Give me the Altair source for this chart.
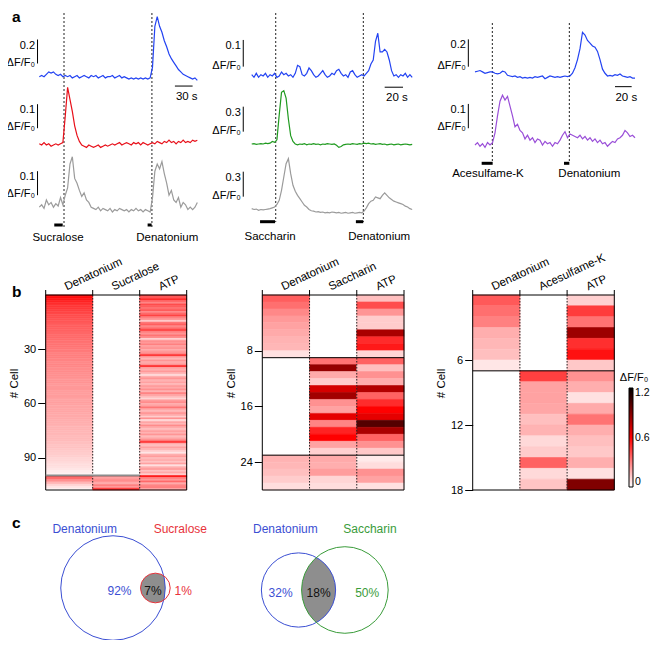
import math
import altair as alt
import pandas as pd

W, H = 642, 632            # drawing area; the page adds an 8 px margin
FONT = "Liberation Sans"


def px(X):                 # reference-image x -> chart x
    return X - 8


def py(Y):                 # reference-image y -> chart y
    return Y - 8


# ============ a: Ca2+ traces (ΔF/F0), regular sampling ============
c1_dt = 4
c1_blue = [0.00, 0.01, 0.00, 0.02, 0.04, 0.03, 0.04, 0.02, 0.01, 0.02,
           0.00, 0.01, 0.00, 0.01, -0.01, 0.00, 0.01, -0.01, 0.00, 0.01,
           0.00, -0.01, 0.01, 0.00, 0.01, -0.01, 0.00, 0.01, -0.01, 0.00,
           0.00, 0.01, -0.01, 0.00, 0.01, -0.01, 0.00, -0.01, -0.02, -0.01,
           -0.02, -0.01, -0.02, -0.01, -0.02, -0.01, -0.02, -0.01, 0.08, 0.42,
           0.50, 0.42, 0.37, 0.30, 0.25, 0.19, 0.15, 0.12, 0.09, 0.06,
           0.04, 0.02, 0.01, 0.00, -0.01, -0.02, -0.01, -0.03]
c1_red = [0.005, 0.000, 0.010, 0.000, 0.005, -0.005, 0.000, 0.005, 0.000, 0.005,
          0.010, 0.120, 0.240, 0.190, 0.140, 0.080, 0.040, 0.015, 0.000, -0.005,
          -0.010, 0.000, -0.005, -0.010, -0.005, 0.000, -0.010, -0.005, 0.000, -0.005,
          0.000, 0.005, 0.000, 0.005, 0.010, 0.000, 0.005, 0.010, 0.005, 0.000,
          0.010, 0.005, 0.010, 0.000, 0.010, 0.005, 0.000, 0.005, 0.010, 0.005,
          0.015, 0.010, 0.005, 0.015, 0.010, 0.020, 0.010, 0.015, 0.005, 0.015,
          0.010, 0.020, 0.010, 0.015, 0.010, 0.020, 0.015, 0.020]
c1_gray = [0.020, 0.030, 0.015, 0.050, 0.030, 0.040, 0.020, 0.035, 0.025, 0.060,
           0.030, 0.070, 0.100, 0.200, 0.230, 0.140, 0.120, 0.090, 0.065, 0.080,
           0.050, 0.040, 0.020, 0.015, 0.010, 0.020, 0.005, 0.015, 0.010, 0.005,
           0.015, 0.000, 0.010, 0.005, 0.015, 0.010, 0.005, 0.010, 0.000, 0.010,
           0.005, 0.015, 0.005, 0.010, 0.000, 0.010, 0.005, 0.000, 0.060, 0.170,
           0.200, 0.180, 0.210, 0.160, 0.120, 0.070, 0.090, 0.050, 0.040, 0.060,
           0.020, 0.040, 0.030, 0.010, 0.020, 0.010, 0.020, 0.040]

c2_dt = 2.5
c2_blue = [0.005, -0.005, 0.010, -0.005, 0.005, 0.000, 0.010, -0.005, 0.005, 0.000,
           0.010, -0.005, 0.000, 0.015, 0.005, 0.010, 0.000, 0.005, -0.005, 0.010,
           0.040, 0.035, 0.005, 0.000, 0.010, 0.030, 0.020, 0.005, -0.005, 0.000,
           0.010, 0.020, 0.005, -0.005, 0.000, 0.010, 0.005, 0.020, 0.025, 0.010,
           0.000, 0.005, -0.005, 0.015, 0.020, 0.005, -0.005, 0.000, 0.005, 0.000,
           0.010, 0.020, 0.045, 0.060, 0.130, 0.160, 0.090, 0.090, 0.100, 0.090,
           0.060, 0.020, 0.000, 0.005, -0.005, 0.005, 0.000, 0.010, -0.005, 0.005,
           -0.005]
c2_green = [0.000, 0.005, -0.005, 0.000, 0.005, 0.000, 0.010, 0.005, 0.010, 0.030,
            0.020, 0.050, 0.350, 0.620, 0.640, 0.550, 0.300, 0.100, 0.030, 0.000,
            -0.010, 0.000, -0.005, 0.005, -0.010, 0.000, -0.005, 0.005, -0.005, 0.000,
            -0.010, 0.000, -0.005, 0.005, 0.000, -0.005, 0.000, -0.015, -0.040, -0.030,
            -0.010, -0.005, 0.000, -0.005, 0.005, 0.000, -0.005, 0.005, 0.000, 0.010,
            0.005, 0.010, 0.000, 0.005, -0.005, 0.000, 0.005, -0.005, 0.000, -0.010,
            -0.005, 0.000, -0.010, -0.005, 0.000, -0.010, -0.005, 0.000, -0.005, -0.010,
            -0.005]
c2_gray = [0.040, 0.030, 0.035, 0.020, 0.030, 0.025, 0.030, 0.035, 0.040, 0.050,
           0.060, 0.090, 0.140, 0.260, 0.420, 0.580, 0.640, 0.460, 0.320, 0.250,
           0.200, 0.160, 0.120, 0.080, 0.060, 0.030, 0.015, 0.010, 0.000, 0.005,
           -0.005, 0.000, -0.010, -0.005, -0.010, 0.000, -0.005, -0.010, -0.005, -0.015,
           -0.010, -0.005, -0.015, -0.010, -0.005, -0.015, -0.010, -0.005, -0.010, 0.010,
           0.050, 0.100, 0.130, 0.140, 0.180, 0.170, 0.160, 0.200, 0.230, 0.200,
           0.170, 0.150, 0.130, 0.120, 0.110, 0.100, 0.090, 0.070, 0.060, 0.040,
           0.030]

c3_dt = 3
c3_blue = [0.030, 0.035, 0.040, 0.030, 0.020, 0.025, 0.030, 0.030, 0.020, 0.015,
           0.020, 0.035, 0.030, 0.005, 0.000, -0.005, 0.000, -0.010, -0.005, -0.015,
           -0.010, -0.015, -0.010, -0.015, -0.005, -0.010, -0.005, 0.000, -0.020, -0.010,
           0.000, -0.005, -0.010, -0.005, -0.010, -0.005, 0.000, -0.005, 0.000, 0.020,
           0.060, 0.120, 0.200, 0.320, 0.300, 0.260, 0.240, 0.220, 0.210, 0.180,
           0.120, 0.050, 0.020, 0.000, 0.005, 0.000, 0.010, 0.005, 0.015, 0.000,
           -0.005, -0.010, -0.005, -0.015, -0.015]
c3_purple = [0.000, 0.010, -0.005, 0.005, -0.010, 0.010, 0.000, 0.010, 0.050, 0.120,
             0.180, 0.205, 0.185, 0.200, 0.160, 0.120, 0.075, 0.085, 0.060, 0.050,
             0.025, 0.040, 0.020, 0.030, 0.010, 0.025, 0.020, 0.000, 0.015, 0.005,
             0.010, -0.005, 0.010, 0.005, 0.020, 0.040, 0.055, 0.030, 0.045, 0.040,
             0.035, 0.030, 0.040, 0.025, 0.035, 0.020, 0.030, 0.015, 0.025, 0.010,
             0.020, 0.005, 0.010, -0.005, 0.005, 0.015, 0.010, 0.025, 0.030, 0.040,
             0.060, 0.050, 0.035, 0.040, 0.030]

# stimulus: name, start (s), end (s), label position (s)
c1_stim = [("Sucralose", 25.4, 39.7, 31.7), ("Denatonium", 183.7, 190.5, 217)]
c2_stim = [("Saccharin", 9.1, 25.5, 20), ("Denatonium", 113.6, 121.6, 139)]
c3_stim = [("Acesulfame-K", 8.0, 21.2, 15.6), ("Denatonium", 106.8, 113.2, 137.2)]
c1_onsets = [41.9, 191.0]
c2_onsets = [26.2, 121.7]
c3_onsets = [20.8, 113.2]

# ============ b: heat maps (peak ΔF/F0 per cell) ============
h1_den = [0.60, 0.57, 0.54, 0.52, 0.50, 0.48, 0.47, 0.46, 0.45, 0.44,
          0.43, 0.42, 0.41, 0.40, 0.40, 0.39, 0.38, 0.38, 0.37, 0.37,
          0.36, 0.36, 0.35, 0.35, 0.34, 0.34, 0.33, 0.33, 0.32, 0.32,
          0.31, 0.31, 0.30, 0.30, 0.30, 0.29, 0.29, 0.28, 0.28, 0.28,
          0.27, 0.27, 0.27, 0.26, 0.26, 0.26, 0.25, 0.25, 0.25, 0.24,
          0.24, 0.24, 0.24, 0.23, 0.23, 0.23, 0.23, 0.22, 0.22, 0.22,
          0.22, 0.21, 0.21, 0.21, 0.21, 0.20, 0.20, 0.20, 0.20, 0.19,
          0.19, 0.19, 0.18, 0.18, 0.18, 0.17, 0.17, 0.17, 0.16, 0.16,
          0.16, 0.15, 0.15, 0.14, 0.14, 0.13, 0.13, 0.12, 0.12, 0.11,
          0.10, 0.10, 0.09, 0.08, 0.08, 0.07, 0.06, 0.05, 0.04, 0.03,
          0.48, 0.36, 0.28, 0.22, 0.16, 0.10, 0.06, None]
h1_suc = [None] * 100 + [0.32, 0.22, 0.28, 0.25, 0.20, 0.30, 0.24, 0.50]
h1_atp = [0.45, 0.40, 0.50, 0.36, 0.30, 0.42, 0.38, 0.33, 0.40, 0.28,
          0.35, 0.44, 0.30, 0.26, 0.12, 0.32, 0.38, 0.28, 0.34, 0.46,
          0.30, 0.25, 0.33, 0.28, 0.10, 0.27, 0.24, 0.30, 0.22, 0.26,
          0.20, 0.24, 0.28, 0.48, 0.22, 0.18, 0.25, 0.20, 0.23, 0.52,
          0.22, 0.19, 0.24, 0.17, 0.08, 0.21, 0.25, 0.18, 0.22, 0.16,
          0.24, 0.20, 0.26, 0.18, 0.30, 0.22, 0.16, 0.10, 0.23, 0.27,
          0.19, 0.24, 0.32, 0.20, 0.17, 0.25, 0.21, 0.12, 0.26, 0.08,
          0.22, 0.18, 0.27, 0.20, 0.15, 0.23, 0.19, 0.25, 0.16, 0.21,
          0.28, 0.50, 0.20, 0.15, 0.22, 0.18, 0.12, 0.06, 0.19, 0.23,
          0.16, 0.20, 0.14, 0.22, 0.07, 0.18, 0.24, 0.15, 0.20, 0.12,
          0.55, 0.30, 0.25, 0.35, 0.20, 0.28, 0.32, 0.22]

h2_den = [0.38, 0.34, 0.28, 0.24, 0.22, 0.20, 0.18, 0.17, 0.07] + [None] * 14 + \
         [0.18, 0.17, 0.15, 0.12, 0.08]
h2_sac = [None] * 9 + [0.33, 0.85, 0.20, 0.12, 0.70, 0.82, 0.26, 0.22, 0.66, 0.29,
                       0.52, 0.60, 0.22, 0.11, 0.20, 0.19, 0.23, 0.10, 0.08]
h2_atp = [0.15, 0.42, 0.25, 0.12, 0.12, 0.80, 0.50, 0.54, 0.10, 0.37,
          0.15, 0.26, 0.19, 0.78, 0.37, 0.50, 0.60, 0.66, 1.00, 0.80,
          0.37, 0.26, 0.13, 0.05, 0.08, 0.26, 0.22, 0.07]

h3_den = [0.39, 0.34, 0.30, 0.19, 0.17, 0.15, 0.06] + [None] * 11
h3_ace = [None] * 7 + [0.45, 0.22, 0.22, 0.21, 0.15, 0.18, 0.09, 0.12, 0.37, 0.09, 0.14]
h3_atp = [0.11, 0.46, 0.33, 0.83, 0.49, 0.56, 0.13, 0.26, 0.19, 0.07,
          0.20, 0.33, 0.19, 0.15, 0.13, 0.19, 0.07, 0.90]

# ============ c: Venn percentages ============
venn = [dict(a="Denatonium", b="Sucralose", a_only=92, both=7, b_only=1),
        dict(a="Denatonium", b="Saccharin", a_only=32, both=18, b_only=50)]

for arr, n in [(h1_den, 108), (h1_suc, 108), (h1_atp, 108), (h2_den, 28), (h2_sac, 28),
               (h2_atp, 28), (h3_den, 18), (h3_ace, 18), (h3_atp, 18)]:
    assert len(arr) == n, (len(arr), n)

# ---------------- styling / layout ----------------
BLUE, RED, GREEN, GRAY, PURPLE = "#2343f2", "#e8101a", "#1f9a1f", "#9b9b9b", "#9a4fd8"

COLS = [
    dict(dt=c1_dt, T=270, X=(39.3, 198.5), onsets=c1_onsets, stim=c1_stim, stimY=225, labY=238,
         dotY=(13, 227), barT=-3.0, tbar=(230, 260, -0.078, "30 s"),
         traces=[(c1_blue, BLUE, 0.2, 76.7, 120, 0.11), (c1_red, RED, 0.1, 145, 240, 0.07),
                 (c1_gray, GRAY, 0.1, 212, 240, 0.07)]),
    dict(dt=c2_dt, T=175, X=(251.7, 412.2), onsets=c2_onsets, stim=c2_stim, stimY=221.7, labY=237,
         dotY=(13, 222), barT=-9.2, tbar=(145, 165, -0.042, "20 s"),
         traces=[(c2_blue, BLUE, 0.1, 76, 267, 0.035), (c2_green, GREEN, 0.3, 144, 83.3, 0.148),
                 (c2_gray, GRAY, 0.3, 212, 83.3, 0.184)]),
    dict(dt=c3_dt, T=192, X=(475, 635), onsets=c3_onsets, stim=c3_stim, stimY=163.3, labY=174,
         dotY=(23, 163), barT=-8.0, tbar=(168, 188, -0.078, "20 s"),
         traces=[(c3_blue, BLUE, 0.2, 76, 136.7, 0.068), (c3_purple, PURPLE, 0.1, 145, 243, 0.069)]),
]

HM_Y = (295, 490)
HM = [
    dict(names=["Denatonium", "Sucralose", "ATP"], cols=[h1_den, h1_suc, h1_atp], X=(45.7, 186.7),
         ticks=[30, 60, 90], seps=[100], sepcolor="#8c8c8c", sepw=2, sepspan=2),
    dict(names=["Denatonium", "Saccharin", "ATP"], cols=[h2_den, h2_sac, h2_atp], X=(262.3, 404),
         ticks=[8, 16, 24], seps=[9, 23], sepcolor="black", sepw=1, sepspan=3),
    dict(names=["Denatonium", "Acesulfame-K", "ATP"], cols=[h3_den, h3_ace, h3_atp], X=(472.7, 614.3),
         ticks=[6, 12, 18], seps=[7], sepcolor="black", sepw=1, sepspan=3),
]

VENN_LAYOUT = [dict(cx=113, cy=588, ca="#3b4fd3", cb="#e8333b"),
               dict(cx=298.5, cy=590, ca="#3b4fd3", cb="#3a9c3a")]
K = 5.25   # px per sqrt(percent): circle areas proportional to cell fractions


def lin(domain, r0, r1):
    return alt.Scale(domain=list(domain), range=[r0, r1], nice=False, zero=False)


layers = []


def add_column(col):
    xsc = lin([0, col["T"]], px(col["X"][0]), px(col["X"][1]))

    def X(f):
        return alt.X(f, type="quantitative", scale=xsc, axis=None)

    layers.append(alt.Chart(pd.DataFrame({"t": col["onsets"]})).mark_rule(
        color="#222", strokeDash=[2, 2], strokeWidth=1).encode(
        x=X("t"), y=alt.value(py(col["dotY"][0])), y2=alt.value(py(col["dotY"][1]))))
    sdf = pd.DataFrame(col["stim"], columns=["name", "t0", "t1", "tl"])
    layers.append(alt.Chart(sdf).mark_rule(color="black", strokeWidth=3).encode(
        x=X("t0"), x2="t1", y=alt.value(py(col["stimY"]))))
    layers.append(alt.Chart(sdf).mark_text(fontSize=11.5, font=FONT, baseline="middle").encode(
        x=X("tl"), y=alt.value(py(col["labY"])), text="name"))
    for k, (vals, color, size, base, ppu, b0) in enumerate(col["traces"]):
        ysc = lin([0, size], py(base), py(base - size * ppu))

        def Y(f, ysc=ysc):
            return alt.Y(f, type="quantitative", scale=ysc, axis=None)

        df = pd.DataFrame({"t": [i * col["dt"] for i in range(len(vals))], "v": vals})
        layers.append(alt.Chart(df).mark_line(color=color, strokeWidth=1.2).encode(x=X("t"), y=Y("v")))
        bdf = pd.DataFrame({"t": [col["barT"]], "v0": [b0], "v1": [b0 + size],
                            "lab": [f"{size:g}"], "unit": ["ΔF/F₀"]})
        layers.append(alt.Chart(bdf).mark_rule(color="black", strokeWidth=1).encode(
            x=X("t"), y=Y("v0"), y2="v1"))
        layers.append(alt.Chart(bdf).mark_text(align="right", baseline="top", dx=-2.5, fontSize=11,
                                               font=FONT).encode(x=X("t"), y=Y("v1"), text="lab"))
        layers.append(alt.Chart(bdf).mark_text(align="right", baseline="alphabetic", dx=-2.5, dy=2,
                                               fontSize=11, font=FONT).encode(x=X("t"), y=Y("v0"), text="unit"))
        if k == 0:
            t0, t1, v, lab = col["tbar"]
            tdf = pd.DataFrame({"t0": [t0], "t1": [t1], "tm": [(t0 + t1) / 2], "v": [v], "lab": [lab]})
            layers.append(alt.Chart(tdf).mark_rule(color="black", strokeWidth=1).encode(
                x=X("t0"), x2="t1", y=Y("v")))
            layers.append(alt.Chart(tdf).mark_text(fontSize=11.5, font=FONT, dx=3, dy=11,
                                                   baseline="middle").encode(x=X("tm"), y=Y("v"), text="lab"))


for c in COLS:
    add_column(c)

CSCALE = alt.Scale(domain=[0, 0.6, 1.2], range=["#ffffff", "#ff0000", "#000000"], interpolate="rgb")
LEGEND = alt.Legend(orient="none", legendX=px(629), legendY=py(388), direction="vertical",
                    gradientLength=99, gradientThickness=4, title=None, values=[0, 0.6, 1.2],
                    format=".1~f", labelFontSize=10.5, labelOffset=2, gradientStrokeColor="black",
                    gradientStrokeWidth=1, labelColor="black", padding=0)


def add_heatmap(hm):
    N = len(hm["cols"][0])
    X0, X1 = hm["X"]
    xsc = lin([0, 3], px(X0), px(X1))
    ysc = lin([0, N], py(HM_Y[0]), py(HM_Y[1]))
    recs = []
    for ci, colvals in enumerate(hm["cols"]):
        for ri, v in enumerate(colvals):
            if v is not None:
                recs.append({"c0": ci, "c1": ci + 1, "r0": ri, "r1": ri + 1, "v": v})
    expr = "[" + ",".join("'%s'" % n for n in hm["names"]) + "][floor(datum.value)]"
    xaxis = alt.Axis(orient="top", offset=-py(HM_Y[0]), values=[0.5, 1.5, 2.5], labelExpr=expr,
                     ticks=False, domain=False, grid=False, labelAngle=-25, labelAlign="left",
                     labelBaseline="alphabetic", labelPadding=5, labelOffset=-3, labelFontSize=11.5,
                     labelColor="black", labelFlush=False, labelOverlap=False, title=None)
    yaxis = alt.Axis(orient="left", offset=-px(X0), values=hm["ticks"], tickSize=8, tickColor="black",
                     labelPadding=2, labelFontSize=11, labelColor="black", labelFlush=False,
                     domain=False, grid=False, title="# Cell", titleFontSize=11.5,
                     titleFontWeight="normal", titleColor="black", titleX=-31, titleY=py(383),
                     titleAngle=270, titleBaseline="middle", titleAlign="center")
    layers.append(alt.Chart(pd.DataFrame(recs)).mark_rect(strokeWidth=0.6).encode(
        x=alt.X("c0:Q", scale=xsc, axis=xaxis), x2="c1:Q",
        y=alt.Y("r0:Q", scale=ysc, axis=yaxis), y2="r1:Q",
        color=alt.Color("v:Q", scale=CSCALE, legend=LEGEND),
        stroke=alt.Stroke("v:Q", scale=CSCALE, legend=None)))

    def XX(f):
        return alt.X(f, type="quantitative", scale=xsc, axis=None)

    def YY(f):
        return alt.Y(f, type="quantitative", scale=ysc, axis=None)

    layers.append(alt.Chart(pd.DataFrame({"c": [0, 3]})).mark_rule(color="black", strokeWidth=1).encode(
        x=XX("c"), y=alt.value(py(HM_Y[0] - 5)), y2=alt.value(py(HM_Y[1]))))
    layers.append(alt.Chart(pd.DataFrame({"c": [1, 2]})).mark_rule(color="black", strokeWidth=1).encode(
        x=XX("c"), y=alt.value(py(HM_Y[0] - 5)), y2=alt.value(py(HM_Y[0]))))
    layers.append(alt.Chart(pd.DataFrame({"c": [1, 2]})).mark_rule(
        color="#222", strokeWidth=1, strokeDash=[1.5, 1.5]).encode(
        x=XX("c"), y=alt.value(py(HM_Y[0])), y2=alt.value(py(HM_Y[1]))))
    layers.append(alt.Chart(pd.DataFrame({"r": [0, N], "a": [0, 0], "b": [3, 3]})).mark_rule(
        color="black", strokeWidth=1).encode(y=YY("r"), x=XX("a"), x2="b"))
    sdf = pd.DataFrame({"r": hm["seps"], "a": [0] * len(hm["seps"]), "b": [hm["sepspan"]] * len(hm["seps"])})
    layers.append(alt.Chart(sdf).mark_rule(color=hm["sepcolor"], strokeWidth=hm["sepw"]).encode(
        y=YY("r"), x=XX("a"), x2="b"))


for hm in HM:
    add_heatmap(hm)

# ---------------- Venn diagrams ----------------
VX = lin([0, W], 0, W)
VY = lin([0, H], 0, H)


def VXf(f):
    return alt.X(f, type="quantitative", scale=VX, axis=None)


def VYf(f):
    return alt.Y(f, type="quantitative", scale=VY, axis=None)


def overlap_area(r1, r2, d):
    if d >= r1 + r2:
        return 0.0
    if d <= abs(r1 - r2):
        return math.pi * min(r1, r2) ** 2
    a1 = r1 * r1 * math.acos((d * d + r1 * r1 - r2 * r2) / (2 * d * r1))
    a2 = r2 * r2 * math.acos((d * d + r2 * r2 - r1 * r1) / (2 * d * r2))
    a3 = 0.5 * math.sqrt((-d + r1 + r2) * (d + r1 - r2) * (d - r1 + r2) * (d + r1 + r2))
    return a1 + a2 - a3


def solve_d(r1, r2, target):
    lo, hi = abs(r1 - r2) + 1e-9, r1 + r2
    for _ in range(80):
        mid = (lo + hi) / 2
        if overlap_area(r1, r2, mid) > target:
            lo = mid
        else:
            hi = mid
    return (lo + hi) / 2


S = 50.0
for v, lay in zip(venn, VENN_LAYOUT):
    rA = K * math.sqrt(v["a_only"] + v["both"])
    rB = K * math.sqrt(v["both"] + v["b_only"])
    d = solve_d(rA, rB, math.pi * K * K * v["both"])
    cxA, cy = px(lay["cx"]), py(lay["cy"])
    cxB = cxA + d
    a = (d * d + rA * rA - rB * rB) / (2 * d)
    h = math.sqrt(max(rA * rA - a * a, 0))
    largeB = 1 if d < a else 0
    largeA = 1 if a < 0 else 0

    def f(z):
        return "%.4f" % (z / S)

    path = ("M%s,%s A%s,%s 0 %d 0 %s,%s A%s,%s 0 %d 0 %s,%s Z" %
            (f(a), f(-h), f(rB), f(rB), largeB, f(a), f(h), f(rA), f(rA), largeA, f(a), f(-h)))
    layers.append(alt.Chart(pd.DataFrame({"x": [cxA], "y": [cy]})).mark_point(
        shape=path, filled=True, fill="#8e8e8e", strokeWidth=0, opacity=1, size=(2 * S) ** 2).encode(
        x=VXf("x"), y=VYf("y")))
    for cx, r, colr in [(cxA, rA, lay["ca"]), (cxB, rB, lay["cb"])]:
        layers.append(alt.Chart(pd.DataFrame({"x": [cx], "y": [cy]})).mark_point(
            shape="circle", filled=False, stroke=colr, strokeWidth=1, opacity=1, size=(2 * r) ** 2).encode(
            x=VXf("x"), y=VYf("y")))
    lens_left, lens_right = cxA + d - rB, cxA + rA
    tdf = pd.DataFrame([
        {"x": cxA - rA + 24, "y": py(528.5), "t": v["a"], "c": lay["ca"]},
        {"x": cxB + 25, "y": py(528.5), "t": v["b"], "c": lay["cb"]},
        {"x": lens_left - 21, "y": cy + 3, "t": "%d%%" % v["a_only"], "c": lay["ca"]},
        {"x": (lens_left + lens_right) / 2, "y": cy + 3, "t": "%d%%" % v["both"], "c": "#111111"},
        {"x": max(lens_right + 18, cxB + rB - 21), "y": cy + 3, "t": "%d%%" % v["b_only"], "c": lay["cb"]},
    ])
    layers.append(alt.Chart(tdf).mark_text(fontSize=12, font=FONT, baseline="middle").encode(
        x=VXf("x"), y=VYf("y"), text="t", fill=alt.Fill("c:N", scale=None)))

# ---------------- panel letters and colour-bar title ----------------
letters = pd.DataFrame({"t": ["a", "b", "c"], "x": [px(12), px(12), px(12)],
                        "y": [py(22), py(296.7), py(528.3)]})
layers.append(alt.Chart(letters).mark_text(fontSize=15.5, fontWeight="bold", font=FONT, align="left",
                                           baseline="alphabetic").encode(x=VXf("x"), y=VYf("y"), text="t"))
layers.append(alt.Chart(pd.DataFrame({"x": [px(634)], "y": [py(378)], "t": ["ΔF/F₀"]})).mark_text(
    fontSize=11, font=FONT, baseline="middle").encode(x=VXf("x"), y=VYf("y"), text="t"))

chart = alt.layer(*layers).resolve_scale(
    x="independent", y="independent", stroke="independent", fill="independent",
    size="independent", shape="independent"
).properties(
    width=W, height=H, autosize=alt.AutoSizeParams(type="none"), padding=0, background="white"
).configure(font=FONT).configure_view(strokeWidth=0)

chart.save("out.html", embed_options={"renderer": "svg", "actions": False})
